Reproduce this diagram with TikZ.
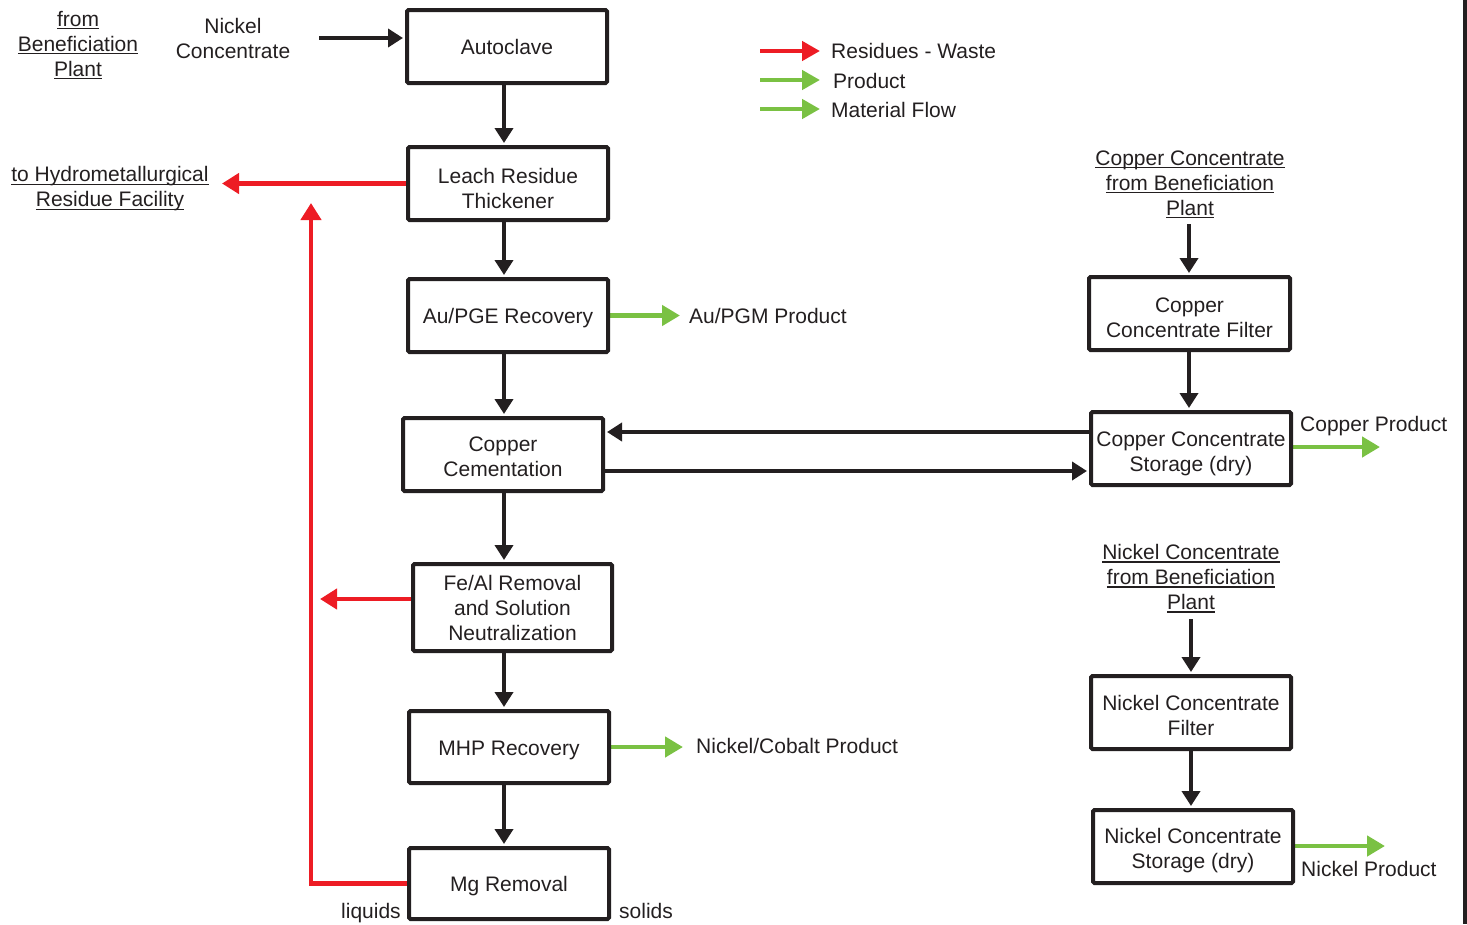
\documentclass[tikz,border=0pt]{standalone}
\usepackage{fontspec}
\setmainfont{Liberation Sans}
\usetikzlibrary{arrows.meta,backgrounds}
\definecolor{ink}{RGB}{35,31,32}
\definecolor{wastered}{RGB}{237,28,36}
\definecolor{prodgreen}{RGB}{122,193,67}
% underline with a fixed depth, independent of descenders
\newcommand\ulin[1]{\sbox0{#1}\rlap{\rule[-3pt]{\wd0}{1.3pt}}\usebox0}
% lowers a node's text block by #1 pt (invisible strut on the first line)
\newcommand\tdrop[1]{\rule{0pt}{\dimexpr15.3pt+#1pt*2\relax}}

\begin{document}
\begin{tikzpicture}[x=1pt,y=-1pt,
  every node/.style={font=\fontsize{21}{25}\selectfont, text=ink, inner sep=0pt},
  unit/.style={draw=ink, line width=4pt, rounded corners=1.5pt, align=center,
               minimum width=200pt, minimum height=73pt},
  flow/.style={draw=ink, line width=4pt, -{Triangle[length=15pt,width=18pt]}, shorten >=2pt},
  wasteflow/.style={draw=wastered, line width=4.5pt, -{Triangle[length=17pt,width=20pt]}},
  prodflow/.style={draw=prodgreen, line width=4.5pt, -{Triangle[length=18pt,width=20pt]}},
  lbl/.style={anchor=base west},
  src/.style={align=center}]

\useasboundingbox (0,0) rectangle (1467,924);

% process units
\node[unit] (auto) at (507,46.5) {Autoclave};
\node[unit] (leach) at (508,183.5) {\tdrop{4.5}Leach Residue\\Thickener};
\node[unit] (aupge) at (508,315.5) {\tdrop{3}Au/PGE Recovery};
\node[unit] (cucem) at (503,454.5) {\tdrop{2}Copper\\Cementation};
\node[unit, minimum width=199pt, minimum height=87pt] (feal) at (512.5,607.5) {Fe/Al Removal\\and Solution\\Neutralization};
\node[unit, minimum height=72pt] (mhp) at (509,747) {\tdrop{3}MHP Recovery};
\node[unit, minimum height=71pt] (mg) at (509,883.5) {\tdrop{3}Mg Removal};
\node[unit, minimum width=201pt] (cufilt) at (1189.5,313.5) {\tdrop{4}Copper\\Concentrate Filter};
\node[unit] (custore) at (1191,448.5) {\tdrop{5}Copper Concentrate\\Storage (dry)};
\node[unit] (nifilt) at (1191,712.5) {\tdrop{3}Nickel Concentrate\\Filter};
\node[unit] (nistore) at (1193,846.5) {\tdrop{4.5}Nickel Concentrate\\Storage (dry)};

% sources and destinations
\node[src] (benef) at (78,45) {\ulin{from}\\\ulin{Beneficiation}\\\ulin{Plant}};
\node[src] (nifeedtext) at (233,38.5) {Nickel\\Concentrate};
\node[src] (hydro) at (110,189) {\ulin{to Hydrometallurgical}\\\ulin{Residue Facility}};
\node[src] (cusrc) at (1190,184.5) {\ulin{Copper Concentrate}\\\ulin{from Beneficiation}\\\ulin{Plant}};
\node[src] (nisrc) at (1191,578.5) {\ulin{Nickel Concentrate}\\\ulin{from Beneficiation}\\\ulin{Plant}};

% stream labels
\node[lbl] (aupgmtext) at (689,323.5) {Au/PGM Product};
\node[lbl] (nicotext) at (696,753.5) {Nickel/Cobalt Product};
\node[lbl] (cuprodtext) at (1300,431.5) {Copper Product};
\node[lbl] (niprodtext) at (1301,876.5) {Nickel Product};
\node[lbl] (liq) at (341,918.5) {liquids};
\node[lbl] (sol) at (619,918.5) {solids};

% legend
\coordinate (lg1) at (760,51);  \coordinate (lg1e) at (820,51);
\coordinate (lg2) at (760,80);  \coordinate (lg2e) at (820,80);
\coordinate (lg3) at (760,109); \coordinate (lg3e) at (820,109);
\node[lbl] (lgt1) at (831,58.5) {Residues - Waste};
\node[lbl] (lgt2) at (833,88.5) {Product};
\node[lbl] (lgt3) at (831,117.5) {Material Flow};

% helper coordinates
\coordinate (colx) at (504,0);
\coordinate (feedstart) at (319,38);
\coordinate (hydroend) at (222,184);
\coordinate (retcorner) at (311,883);
\coordinate (rettop) at (311,203);
\coordinate (fealend) at (320,599);
\coordinate (aupgmend) at (680,0);
\coordinate (nicoend) at (683,0);
\coordinate (upper) at (0,432);
\coordinate (lower) at (0,471);
\coordinate (cuprodend) at (1380,447);
\coordinate (niprodend) at (1385,846);
\coordinate (cusrcout) at (1189,224);
\coordinate (nisrcout) at (1191,619);

\begin{scope}[on background layer]
  % main material flow
  \draw[flow] (feedstart) -- (feedstart -| auto.west);
  \draw[flow] (auto.south -| colx) -- (leach.north -| colx);
  \draw[flow] (leach.south -| colx) -- (aupge.north -| colx);
  \draw[flow] (aupge.south -| colx) -- (cucem.north -| colx);
  \draw[flow] (cucem.south -| colx) -- (feal.north -| colx);
  \draw[flow] (feal.south -| colx) -- (mhp.north -| colx);
  \draw[flow] (mhp.south -| colx) -- (mg.north -| colx);

  % copper concentrate exchange
  \draw[flow] (custore.west |- upper) -- (cucem.east |- upper);
  \draw[flow] (cucem.east |- lower) -- (custore.west |- lower);
  \draw[flow] (cusrcout) -- (cusrcout |- cufilt.north);
  \draw[flow] (cufilt.south -| cusrcout) -- (custore.north -| cusrcout);
  \draw[flow] (nisrcout) -- (nisrcout |- nifilt.north);
  \draw[flow] (nifilt.south -| nisrcout) -- (nistore.north -| nisrcout);

  % residues
  \draw[wasteflow] (leach.west) -- (leach.west -| hydroend);
  \draw[wasteflow] (mg.west) -- (mg.west -| retcorner) -- (rettop);
  \draw[wasteflow] (fealend -| feal.west) -- (fealend);

  % products
  \draw[prodflow] (aupge.east) -- (aupge.east -| aupgmend);
  \draw[prodflow] (mhp.east) -- (mhp.east -| nicoend);
  \draw[prodflow] (custore.east |- cuprodend) -- (cuprodend);
  \draw[prodflow] (nistore.east |- niprodend) -- (niprodend);

  % legend arrows
  \draw[wasteflow, -{Triangle[length=18pt,width=19pt]}] (lg1) -- (lg1e);
  \draw[prodflow, -{Triangle[length=18pt,width=19pt]}] (lg2) -- (lg2e);
  \draw[prodflow, -{Triangle[length=18pt,width=19pt]}] (lg3) -- (lg3e);
\end{scope}

% page edge rule
\fill[ink] (1463,0) rectangle (1467,924);
\end{tikzpicture}
\end{document}
